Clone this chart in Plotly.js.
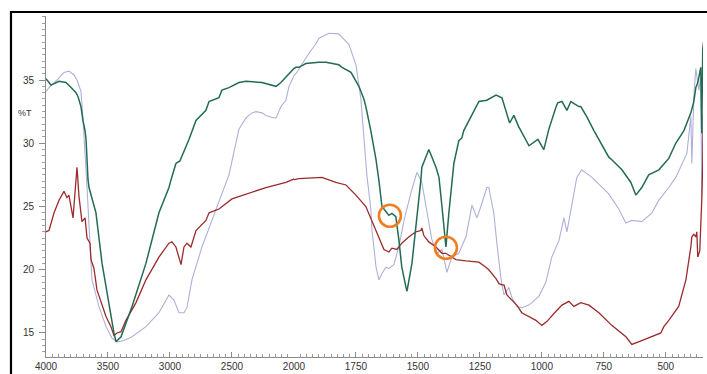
<!DOCTYPE html>
<html>
<head>
<meta charset="utf-8">
<script src="https://cdn.plot.ly/plotly-3.0.1.min.js"></script>
<style>
html,body{margin:0;padding:0;background:#fff;}
#chart{width:707px;height:374px;}
</style>
</head>
<body>
<div id="chart"></div>
<script>
// Wavenumber (cm-1) and %T readings for each spectrum
const wnGreen = [4000,3976,3960,3895,3839,3798,3758,3742,3718,3702,3685,3677,3669,3661,3653,3597,3548,3492,3452,3435,3395,3306,3194,3089,3008,2992,2952,2920,2911,2847,2790,2710,2685,2605,2581,2524,2444,2387,2258,2145,2105,2024,1992,1980,1952,1899,1871,1819,1806,1770,1738,1718,1710,1690,1669,1657,1645,1629,1617,1605,1589,1577,1565,1548,1544,1524,1504,1488,1484,1456,1427,1415,1403,1387,1375,1355,1335,1323,1315,1286,1254,1222,1185,1161,1130,1113,1093,1052,1016,992,972,944,936,919,899,883,851,843,819,790,770,730,718,677,641,621,597,569,528,488,460,427,399,387,379,371,359,355,351,348];
const tGreen = [35.1,34.8,34.6,34.9,34.8,34.4,34.0,33.7,32.9,31.8,31.0,30.3,28.1,27.1,26.5,24.5,20.5,17.1,15.0,14.3,14.7,17.1,20.5,24.5,26.5,27.1,28.4,28.6,28.8,30.3,31.8,32.6,33.3,33.6,34.2,34.4,34.8,34.9,34.8,34.5,34.8,35.6,36.0,36.0,36.3,36.4,36.4,36.2,36.0,35.6,34.5,33.5,32.9,31.0,28.7,27.0,25.0,24.6,24.3,24.45,24.2,22.4,20.2,18.6,18.3,20.5,23.9,27.1,28.1,29.5,28.1,27.3,25.0,21.8,24.5,28.4,30.2,30.4,31.0,32.1,33.3,33.4,33.8,33.6,31.6,32.2,31.3,29.8,30.3,29.5,31.1,32.8,33.2,33.3,32.6,33.3,32.9,32.9,32.1,31.0,30.3,28.9,28.7,27.9,26.9,25.9,26.5,27.5,27.9,28.8,30.0,31.0,32.4,33.3,34.4,34.8,36.0,30.8,37.4,38.0];

const wnRed = [4000,3976,3935,3895,3855,3831,3815,3782,3750,3734,3710,3685,3669,3645,3637,3613,3589,3556,3516,3476,3452,3427,3395,3355,3274,3194,3089,3008,2984,2952,2911,2887,2863,2831,2790,2710,2685,2605,2500,2470,2258,2226,2065,1992,1980,1887,1831,1790,1750,1710,1685,1657,1637,1617,1605,1585,1565,1536,1508,1488,1484,1476,1456,1427,1403,1387,1347,1306,1254,1226,1214,1185,1173,1161,1153,1141,1121,1101,1081,1052,1024,1000,980,944,919,891,871,843,810,770,718,661,637,597,556,520,508,488,448,419,399,395,387,379,375,371,363,359,355,351,348];
const tRed = [23.0,23.1,24.5,25.5,26.2,25.7,25.9,24.1,28.1,25.8,23.8,24.1,22.5,22.1,20.8,20.1,18.4,17.4,16.3,15.5,14.8,15.0,15.1,16.0,17.4,19.2,21.0,22.1,22.2,21.8,20.4,21.8,22.1,21.8,23.1,23.9,24.5,24.8,25.6,25.7,26.4,26.5,26.9,27.2,27.2,27.3,26.9,26.7,25.9,25.0,23.8,22.6,21.6,21.4,21.7,21.6,22.1,22.6,23.0,23.1,23.3,22.7,22.2,21.8,21.3,21.3,20.8,20.7,20.6,20.2,20.0,19.3,18.9,18.8,18.8,18.0,17.6,17.2,16.6,16.3,16.0,15.6,15.9,16.7,17.2,17.5,17.1,17.4,17.2,16.6,15.6,14.7,14.1,14.4,14.7,15.0,15.5,16.0,17.1,19.2,21.8,22.6,22.8,22.6,23.0,21.0,21.5,23.1,25.5,28.5,32.2];

const wnBlue = [4000,3976,3911,3855,3815,3774,3750,3718,3702,3685,3669,3645,3629,3573,3516,3468,3427,3371,3306,3194,3089,3008,2968,2927,2887,2863,2823,2742,2661,2581,2524,2444,2387,2339,2306,2258,2226,2161,2145,2105,2065,2040,1992,1940,1910,1899,1859,1819,1778,1750,1730,1718,1706,1690,1685,1669,1657,1645,1629,1617,1597,1577,1556,1528,1508,1504,1484,1464,1444,1423,1403,1383,1363,1335,1306,1282,1262,1246,1222,1214,1206,1194,1181,1165,1153,1133,1121,1101,1081,1052,1012,984,960,931,911,899,883,863,859,839,798,730,690,661,637,597,556,528,488,460,435,415,399,395,387,379,367,359,355,351];
const tBlue = [34.1,34.4,35.0,35.6,35.7,35.4,35.0,34.1,32.0,29.5,26.5,22.0,19.2,17.1,15.5,14.6,14.3,14.4,14.7,15.5,16.6,18.0,17.6,16.6,16.6,17.0,19.2,21.8,23.9,26.1,27.5,31.1,32.0,32.4,32.5,32.4,32.2,32.0,32.0,32.9,33.4,34.5,35.5,37.1,37.9,38.3,38.7,38.65,37.8,36.2,33.5,30.5,27.5,24.8,23.1,20.2,19.2,19.7,20.2,20.1,20.4,21.8,23.9,26.1,27.3,27.7,26.9,24.5,22.4,21.3,21.6,19.8,21.0,21.3,22.6,25.1,24.1,25.0,26.5,26.5,25.8,24.5,22.0,19.3,18.0,18.6,17.8,17.1,17.0,17.2,17.9,19.0,21.0,22.3,24.1,23.0,24.7,27.0,27.3,27.9,27.3,26.0,24.8,23.7,23.9,23.8,24.5,25.5,26.5,27.3,28.4,29.2,32.1,28.4,33.7,35.9,34.2,35.2,25.8,32.4];

// Axis ticks
const xTicksHigh = [4000,3500,3000,2500];
const xTicksLow = [2000,1750,1500,1250,1000,750,500];
const yTicks = [15,20,25,30,35];
const BREAK = 2000; // scale changes at 2000 cm-1

function splitAt(wn, t){
  let k = wn.findIndex(v => v < BREAK);
  if (k < 0) k = wn.length;
  const hi = {x: wn.slice(0, Math.min(k+1, wn.length)), y: t.slice(0, Math.min(k+1, t.length))};
  const s = Math.max(k-1, 0);
  const lo = {x: wn.slice(s), y: t.slice(s)};
  return [hi, lo];
}

const series = [
  {wn: wnBlue, t: tBlue, color: '#aeb0d9', width: 1.1},
  {wn: wnRed, t: tRed, color: '#9c2a2c', width: 1.3},
  {wn: wnGreen, t: tGreen, color: '#236b52', width: 1.5}
];

const traces = [];
series.forEach(s => {
  const [hi, lo] = splitAt(s.wn, s.t);
  traces.push({x: hi.x, y: hi.y, xaxis: 'x', yaxis: 'y', mode: 'lines', line: {color: s.color, width: s.width}, hoverinfo: 'skip'});
  traces.push({x: lo.x, y: lo.y, xaxis: 'x2', yaxis: 'y', mode: 'lines', line: {color: s.color, width: s.width}, hoverinfo: 'skip'});
});

const split = 0.3774;
const axisCommon = {
  showline: true, linecolor: '#8a8a8a', linewidth: 1,
  ticks: 'inside', ticklen: 5, tickcolor: '#8a8a8a',
  showgrid: false, zeroline: false,
  tickfont: {family: 'Liberation Sans, Arial, sans-serif', size: 10, color: '#333'}
};

const layout = {
  width: 707, height: 374,
  margin: {l: 46, r: 4, t: 16, b: 17},
  paper_bgcolor: '#fff', plot_bgcolor: '#fff',
  showlegend: false,
  xaxis: Object.assign({}, axisCommon, {
    domain: [0, split], range: [4000, BREAK], anchor: 'y',
    tickmode: 'array', tickvals: xTicksHigh, ticktext: xTicksHigh.map(String),
    minor: {tickmode: 'linear', tick0: 0, dtick: 50, ticks: 'inside', ticklen: 3, tickcolor: '#9a9a9a'}
  }),
  xaxis2: Object.assign({}, axisCommon, {
    domain: [split, 1], range: [BREAK, 350], anchor: 'y',
    tickmode: 'array', tickvals: xTicksLow, ticktext: xTicksLow.map(String),
    minor: {tickmode: 'linear', tick0: 0, dtick: 25, ticks: 'inside', ticklen: 3, tickcolor: '#9a9a9a'}
  }),
  yaxis: Object.assign({}, axisCommon, {
    range: [13.1, 40.06], anchor: 'x',
    ticks: 'outside', ticklen: 6,
    tickmode: 'array', tickvals: yTicks, ticktext: yTicks.map(String),
    ticklabelstandoff: 3,
    minor: {tickmode: 'linear', tick0: 0, dtick: 0.5, ticks: 'outside', ticklen: 3, tickcolor: '#a0a0a0'}
  }),
  annotations: [
    {text: '%T', xref: 'paper', yref: 'paper', x: -0.032, y: 0.717, xanchor: 'center', yanchor: 'middle', showarrow: false,
     font: {family: 'Liberation Sans, Arial, sans-serif', size: 9, color: '#333'}}
  ],
  shapes: [
    {type: 'rect', xref: 'paper', yref: 'paper', x0: -0.0533, x1: 1.02, y0: -0.3, y1: 1.0117, line: {color: '#000', width: 2.2}, fillcolor: 'rgba(0,0,0,0)', layer: 'above'},
    {type: 'circle', xref: 'x2', yref: 'y', xsizemode: 'pixel', ysizemode: 'pixel', xanchor: 1613, yanchor: 24.27, x0: -11, x1: 11, y0: -11, y1: 11, line: {color: '#ef7d22', width: 2.6}},
    {type: 'circle', xref: 'x2', yref: 'y', xsizemode: 'pixel', ysizemode: 'pixel', xanchor: 1387, yanchor: 21.74, x0: -11, x1: 11, y0: -11, y1: 11, line: {color: '#ef7d22', width: 2.6}}
  ]
};

Plotly.newPlot('chart', traces, layout, {staticPlot: true, displayModeBar: false});
</script>
</body>
</html>
